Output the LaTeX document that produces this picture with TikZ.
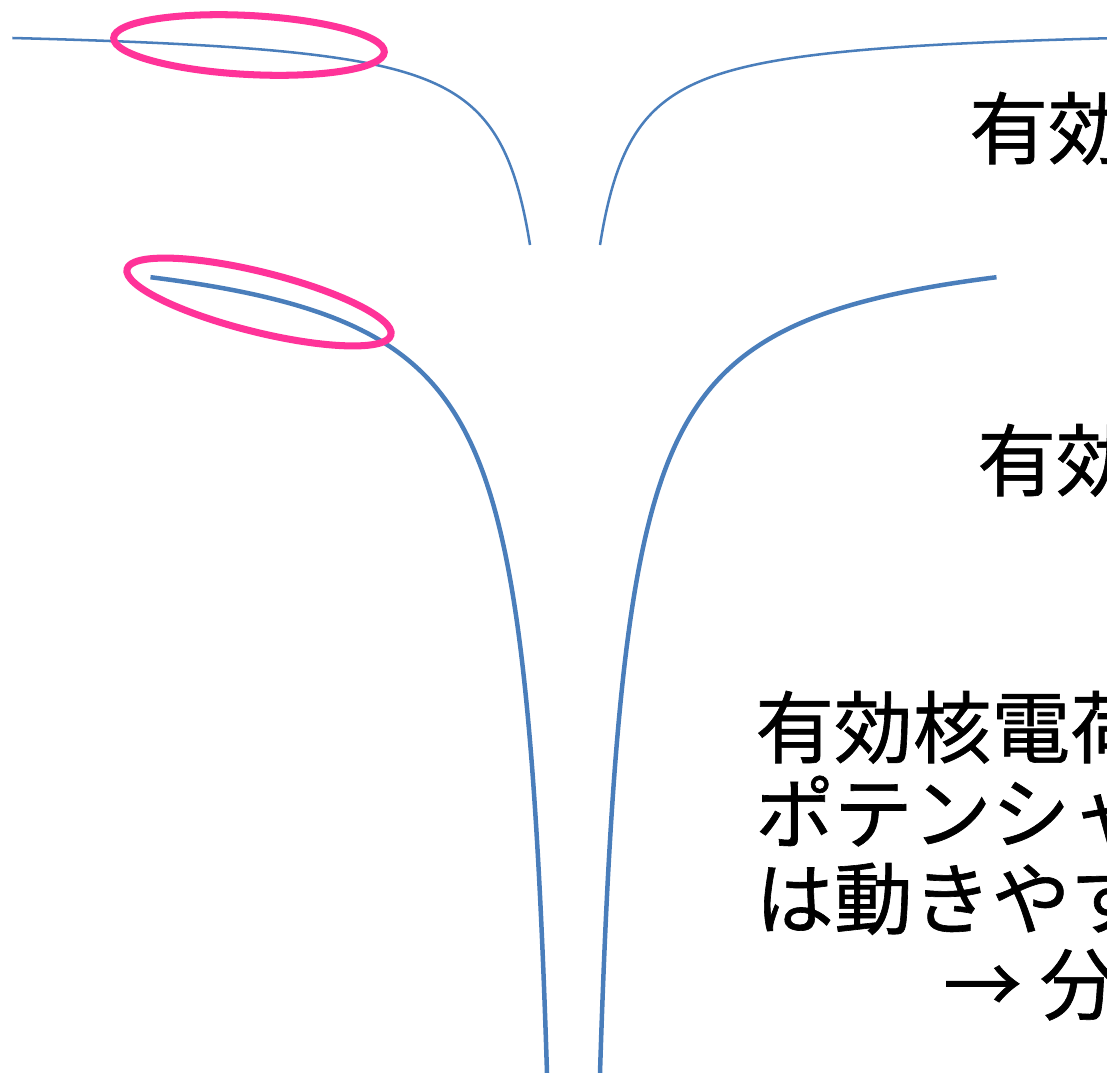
\documentclass[tikz,border=0pt]{standalone}
\usepackage{fontspec}
\setmainfont{Noto Sans CJK JP}[FakeBold=0.8]
\usepackage{tikz}
\usetikzlibrary{positioning}
\definecolor{curveblue}{RGB}{74,126,187}
\definecolor{ringpink}{RGB}{255,51,153}
\tikzset{
	txt/.style={inner sep=0pt, anchor=base west, font=\fontsize{56}{60}\selectfont,
		text height=1.738cm, text depth=0.387cm},
	thinwell/.style={curveblue, line width=1.8pt, smooth},
	thickwell/.style={curveblue, line width=3.2pt, smooth},
	ring/.style={ringpink, line width=5pt}
}

\begin{document}
\begin{tikzpicture}[x=0.025cm, y=-0.025cm]
		\useasboundingbox (0,0) rectangle (1107,1073);
		\clip (0,0) rectangle (1107,1073);
		
		% upper well, y = 24 + 7735/d
		\draw[thinwell, domain=3.5553:6.3154, samples=90] plot ({565-exp(\x)}, {24+7735/exp(\x)});
		\draw[thinwell, domain=3.5553:6.33, samples=90] plot ({565+exp(\x)}, {24+7735/exp(\x)});
		
		% lower well, y = 224 + 22500/d
		\draw[thickwell, domain=3.258:6.0485, samples=90] plot ({573.5-exp(\x)}, {224+100*(225/exp(\x))});
		\draw[thickwell, domain=3.258:6.0485, samples=90] plot ({573.5+exp(\x)}, {224+100*(225/exp(\x))});
		
		\draw[ring, rotate around={-3:(249,45)}] (249,45) ellipse [x radius=135.5, y radius=29.5];
		\draw[ring, rotate around={-14:(259,302)}] (259,302) ellipse [x radius=136, y radius=30];
		
		\node[txt](E1) at (969,158)		{有効};
		\node[txt](E2) at (977,490)		{有効};
		\node[txt](Z1) at (755,757)		{有効核電荷};
		\node[txt, below=0pt of Z1.south west, anchor=north west](Z2)	{ポテンシャ};
		\node[txt, below=0pt of Z2.south west, anchor=north west](Z3)	{は動きやす};
		\node[txt, below=0pt of Z3.south west, anchor=north west, xshift=4.7cm](Z4)	{→ 分};
	\end{tikzpicture}
\end{document}
